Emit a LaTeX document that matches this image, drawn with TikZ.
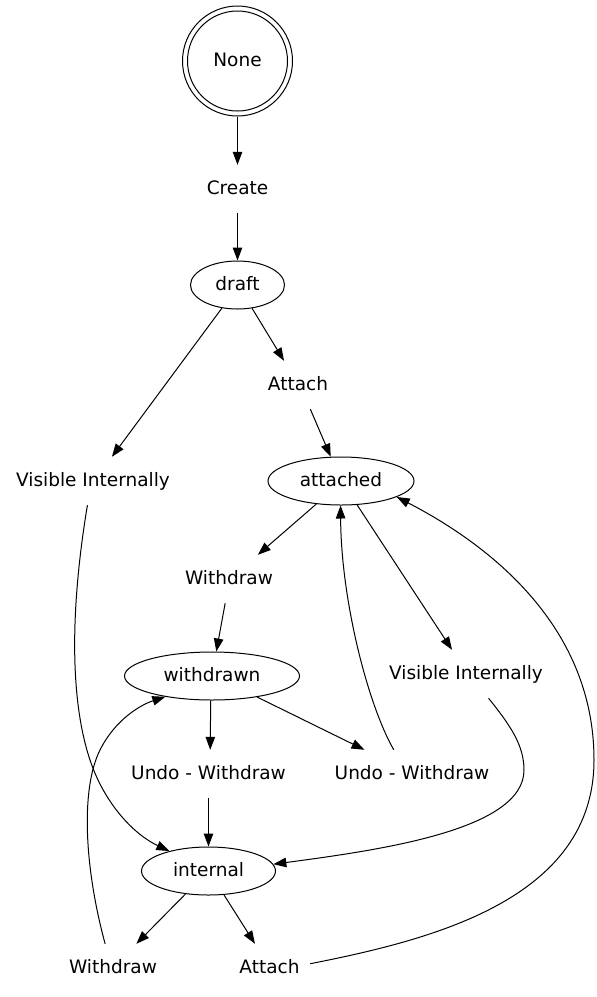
\documentclass[tikz,border=0pt]{standalone}
\usepackage{fontspec}
\setmainfont{DejaVu Sans}
\usetikzlibrary{arrows.meta,shapes.geometric}
\begin{document}
\begin{tikzpicture}[x=1pt,y=-1pt,
  every node/.style={font=\fontsize{18.5}{22}\selectfont, text height=14pt, text depth=4pt},
  st/.style={draw, ellipse, inner sep=0pt, minimum height=48pt, line width=1pt},
  lbl/.style={rectangle, inner xsep=10.5pt, inner ysep=0pt, minimum height=48pt},
  edge/.style={-{Triangle[length=13pt,width=9.5pt]}, line width=1pt}]
\useasboundingbox (0,0) rectangle (597,997);
% states
\node[draw, circle, minimum size=110pt, inner sep=0pt, line width=1pt] (none) at (237.5,61) {None};
\draw[line width=1pt] (none.center) circle (50pt);
\node[st, minimum width=94pt] (draft) at (237.5,285) {draft};
\node[st, minimum width=146pt] (attached) at (341,481) {attached};
\node[st, minimum width=175pt] (withdrawn) at (212,676) {withdrawn};
\node[st, minimum width=134pt] (internal) at (208.5,871) {internal};
% labels
\node[lbl] (create) at (237.5,189) {Create};
\node[lbl] (attach1) at (298,385) {Attach};
\node[lbl] (visL) at (93,481) {Visible Internally};
\node[lbl] (withdraw1) at (229,579) {Withdraw};
\node[lbl] (visR) at (466,674) {Visible Internally};
\node[lbl] (undoL) at (208.5,774) {Undo - Withdraw};
\node[lbl] (undoR) at (412,774) {Undo - Withdraw};
\node[lbl] (withdraw2) at (113,968) {Withdraw};
\node[lbl] (attach2) at (269.5,968) {Attach};
% edges
\draw[edge] (none) -- (create);
\draw[edge] (create) -- (draft);
\draw[edge] (draft.-58.6) -- (attach1.120.3);
\draw[edge] (draft.-124.2) -- (visL.52.8);
\draw[edge] (attach1.-63.1) -- (attached.113);
\draw[edge] (attached.-137.3) -- (withdraw1.40.9);
\draw[edge] (attached.-56.8) -- (visR.120.8);
\draw[edge] (withdraw1.-99.6) -- (withdrawn.80.7);
\draw[edge] (withdrawn.-93) -- (undoL.86.9);
\draw[edge] (withdrawn.-25.7) -- (undoR.153);
\draw[edge] (undoR.127.9) .. controls (368,705) and (341,600) .. (attached.-91);
\draw[edge] (visR.-47.3) .. controls (510,725) and (524,745) .. (524,770) .. controls (524,830) and (380,850) .. (internal.6.6);
\draw[edge] (visL.-103.4) .. controls (70,610) and (70,700) .. (90,760) .. controls (105,805) and (135,835) .. (internal.153.6);
\draw[edge] (undoL) -- (internal);
\draw[edge] (internal.-135) -- (withdraw2.46.6);
\draw[edge] (internal.-57.5) -- (attach2.121.1);
\draw[edge] (withdraw2.108) .. controls (85,870) and (80,790) .. (100,750) .. controls (115,720) and (140,705) .. (withdrawn.-156.7);
\draw[edge] (attach2.6.9) .. controls (430,940) and (594,900) .. (594,760) .. controls (594,620) and (480,540) .. (attached.-16);
\end{tikzpicture}
\end{document}
